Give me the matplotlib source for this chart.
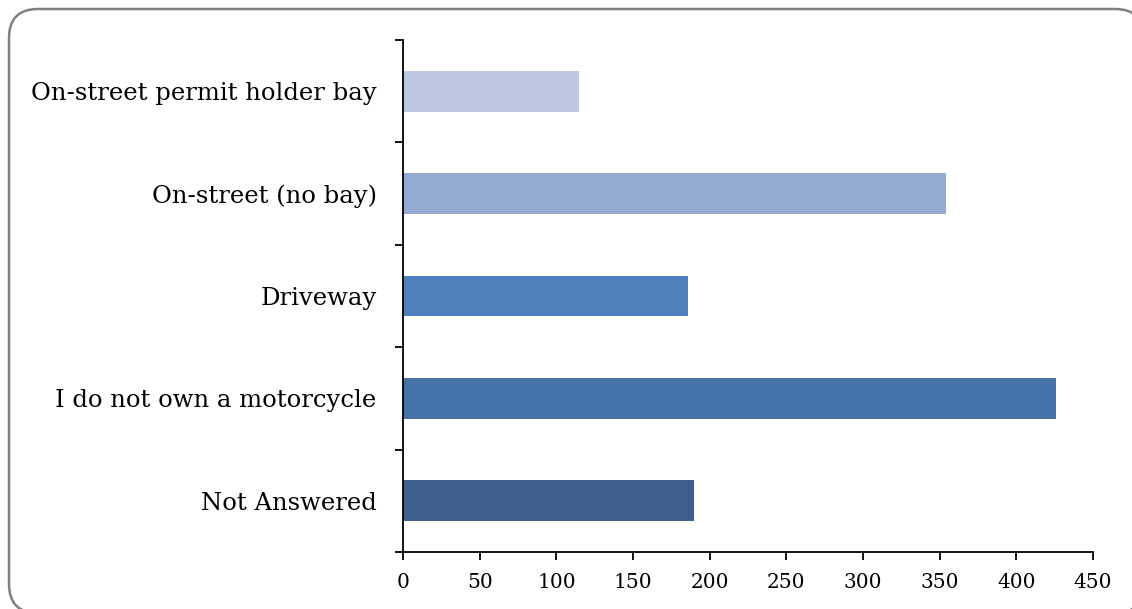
import matplotlib.pyplot as plt
from matplotlib.patches import FancyBboxPatch
from matplotlib.lines import Line2D
from matplotlib.transforms import IdentityTransform

# data (bottom to top)
categories = ['Not Answered', 'I do not own a motorcycle', 'Driveway',
              'On-street (no bay)', 'On-street permit holder bay']
values = [190, 426, 186, 354, 115]
colors = ['#3C5F8D', '#4473A7', '#4F81BD', '#95AAD1', '#BCC9E1']
xticks = [0, 50, 100, 150, 200, 250, 300, 350, 400, 450]

plt.rcParams['font.family'] = ['DejaVu Serif']

W, H = 1132, 609
fig = plt.figure(figsize=(W / 100, H / 100), dpi=100)

# rounded grey frame (in inches), running off the right and bottom edges;
# flattened to a polyline so the off-canvas curves render cleanly
box = FancyBboxPatch((0.09, -0.04), 11.35, 6.04,
                     boxstyle="round,pad=0,rounding_size=0.29",
                     transform=fig.dpi_scale_trans)
poly = box.get_path().to_polygons(box.get_transform(), closed_only=True)[0]
fig.add_artist(Line2D(poly[:, 0], poly[:, 1], transform=IdentityTransform(),
                      color='#808080', linewidth=1.8))

ax = fig.add_axes([403 / W, 57 / H, 690 / W, 512 / H])
ax.barh(range(len(categories)), values, height=0.4, color=colors)

ax.set_xlim(0, 450)
ax.set_ylim(-0.5, 4.5)
ax.set_xticks(xticks)
ax.set_xticklabels([str(t) for t in xticks], fontsize=14.5)
ax.set_yticks(range(len(categories)))
ax.set_yticklabels(categories, fontsize=17.5)
ax.set_yticks([i - 0.5 for i in range(len(categories) + 1)], minor=True)
ax.tick_params(axis='y', which='major', length=0, pad=19)
ax.tick_params(axis='y', which='minor', length=6, width=1.3, direction='out')
ax.tick_params(axis='x', length=6, width=1.3, direction='out', pad=9)

for s in ['top', 'right']:
    ax.spines[s].set_visible(False)
ax.spines['left'].set_linewidth(1.3)
ax.spines['bottom'].set_linewidth(1.3)

fig.savefig('out.png', dpi=100)
